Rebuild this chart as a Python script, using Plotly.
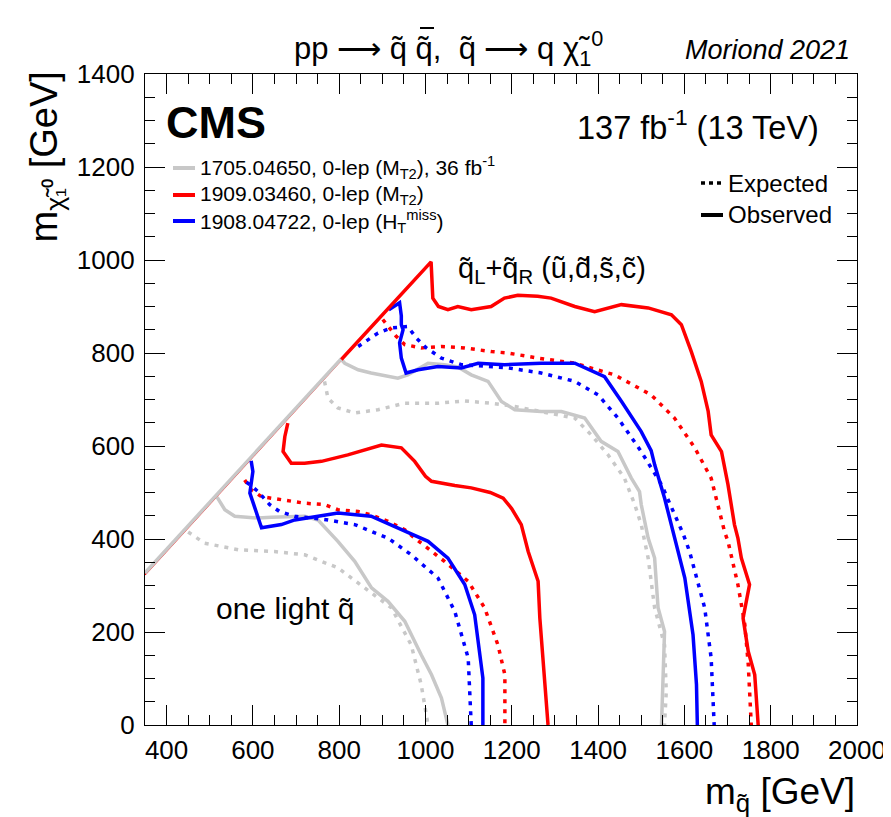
import plotly.graph_objects as go

# ---------------- data (GeV) ----------------
# kinematic diagonal
diag_red_x = [350, 1013]
diag_red_y = [323, 996]
diag_gray_x = [350, 805]
diag_gray_y = [327, 788]

# q_L + q_R (8 degenerate squarks)
red_obs_all_x = [805, 1013, 1017, 1030, 1052, 1075, 1106, 1152, 1183, 1214, 1260, 1291, 1346, 1392, 1454, 1516,
                 1570, 1593, 1616, 1639, 1655, 1662, 1686, 1701, 1716, 1724, 1732, 1751, 1736, 1748, 1763, 1771]
red_obs_all_y = [786, 996, 918, 900, 893, 900, 893, 900, 918, 924, 922, 918, 900, 889, 904, 897,
                 882, 861, 803, 739, 675, 624, 588, 517, 431, 402, 359, 302, 230, 158, 108, 0]
red_exp_all_x = [901, 917, 932, 952, 990, 1037, 1091, 1153, 1191, 1261, 1346, 1438, 1523, 1577, 1624, 1662,
                 1670, 1693, 1701, 1724, 1740, 1748, 1755]
red_exp_all_y = [872, 854, 836, 818, 811, 814, 811, 803, 800, 789, 778, 753, 710, 660, 596, 531,
                 502, 416, 395, 302, 216, 130, 0]
blue_obs_all_x = [915, 940, 944, 944, 948, 940, 944, 955, 983, 1029, 1083, 1122, 1183, 1268, 1346, 1415, 1454,
                  1500, 1523, 1531, 1554, 1570, 1577, 1601, 1620, 1628, 1630]
blue_obs_all_y = [893, 908, 880, 861, 850, 822, 789, 757, 764, 771, 768, 778, 775, 778, 778, 749, 696,
                  631, 590, 560, 488, 431, 402, 316, 194, 87, 0]
blue_exp_all_x = [844, 890, 921, 959, 979, 1002, 1037, 1083, 1145, 1191, 1268, 1346, 1400, 1446, 1500, 1547,
                  1554, 1578, 1598, 1612, 1647, 1662, 1669]
blue_exp_all_y = [814, 843, 854, 857, 832, 811, 789, 775, 771, 768, 757, 739, 710, 660, 588, 517,
                  502, 450, 409, 373, 252, 144, 0]
gray_obs_all_x = [805, 813, 844, 874, 936, 959, 1006, 1044, 1075, 1106, 1145, 1176, 1207, 1268, 1315, 1369,
                  1407, 1446, 1477, 1496, 1500, 1516, 1531, 1539, 1554, 1550, 1547]
gray_obs_all_y = [786, 778, 764, 757, 746, 753, 778, 775, 770, 753, 739, 696, 678, 674, 674, 660,
                  610, 588, 531, 502, 474, 402, 359, 252, 201, 108, 0]
gray_exp_all_x = [766, 774, 797, 836, 890, 952, 1029, 1091, 1153, 1207, 1268, 1346, 1384, 1423, 1461, 1485,
                  1500, 1516, 1531, 1554, 1558, 1554]
gray_exp_all_y = [739, 703, 682, 671, 678, 692, 692, 697, 692, 685, 674, 660, 624, 581, 531, 474,
                  431, 359, 252, 172, 72, 0]

# one light squark
red_obs_one_x = [681, 674, 670, 689, 720, 759, 820, 898, 944, 975, 1000, 1014, 1068, 1106, 1150, 1180, 1200,
                 1222, 1238, 1261, 1265, 1276, 1284]
red_obs_one_y = [649, 620, 588, 563, 563, 567, 581, 602, 596, 567, 535, 524, 515, 510, 500, 488, 465,
                 431, 373, 309, 230, 108, 0]
red_exp_one_x = [581, 596, 620, 658, 720, 766, 797, 844, 874, 913, 952, 975, 1044, 1099, 1137, 1168, 1184, 1184]
red_exp_one_y = [527, 506, 491, 485, 477, 474, 463, 459, 452, 438, 420, 402, 352, 309, 252, 172, 108, 0]
blue_obs_one_x = [596, 600, 593, 620, 666, 697, 751, 797, 874, 952, 1006, 1052, 1091, 1114, 1133, 1133]
blue_obs_one_y = [568, 545, 499, 424, 431, 441, 449, 456, 449, 416, 395, 359, 302, 237, 101, 0]
blue_exp_one_x = [585, 596, 612, 639, 662, 697, 766, 836, 913, 967, 1029, 1068, 1099, 1106]
blue_exp_one_y = [522, 515, 502, 474, 459, 449, 442, 431, 402, 366, 316, 244, 144, 0]
gray_obs_one_x = [517, 535, 558, 612, 643, 720, 751, 797, 836, 875, 913, 952, 990, 1014, 1037, 1052]
gray_obs_one_y = [490, 463, 449, 445, 447, 449, 441, 395, 352, 295, 266, 223, 151, 108, 58, 0]
gray_exp_one_x = [450, 488, 566, 650, 720, 797, 859, 921, 967, 990, 1006]
gray_exp_one_y = [415, 391, 377, 373, 366, 338, 295, 252, 172, 87, 0]

legend_labels = [
    "1705.04650, 0-lep (M<sub>T2</sub>), 36 fb<sup>-1</sup>",
    "1909.03460, 0-lep (M<sub>T2</sub>)",
    "1908.04722, 0-lep (H<sub>T</sub><sup>miss</sup>)",
]
x_ticks = [400, 600, 800, 1000, 1200, 1400, 1600, 1800, 2000]
y_ticks = [0, 200, 400, 600, 800, 1000, 1200, 1400]

# ---------------- styles ----------------
RED = "#ff0000"
BLUE = "#0000ff"
GRAY = "#c8c8c8"
LW = 3.5
DOT = "4px,6px"
FONT = "Liberation Sans, Arial, Helvetica, sans-serif"

fig = go.Figure()


def add(x, y, color, dash="solid", width=LW):
    fig.add_trace(go.Scatter(x=x, y=y, mode="lines", showlegend=False, hoverinfo="skip",
                             line=dict(color=color, width=width, dash=dash)))


add(diag_red_x, diag_red_y, RED, width=1.5)
add(diag_gray_x, diag_gray_y, GRAY, width=3.5)

# lower (one light squark)
add(gray_exp_one_x, gray_exp_one_y, GRAY, DOT)
add(gray_obs_one_x, gray_obs_one_y, GRAY)
add(red_exp_one_x, red_exp_one_y, RED, DOT)
add(blue_exp_one_x, blue_exp_one_y, BLUE, DOT)
add(blue_obs_one_x, blue_obs_one_y, BLUE)
add(red_obs_one_x, red_obs_one_y, RED)

# upper (8 squarks)
add(gray_exp_all_x, gray_exp_all_y, GRAY, DOT)
add(gray_obs_all_x, gray_obs_all_y, GRAY)
add(red_exp_all_x, red_exp_all_y, RED, DOT)
add(blue_exp_all_x, blue_exp_all_y, BLUE, DOT)
add(blue_obs_all_x, blue_obs_all_y, BLUE)
add(red_obs_all_x, red_obs_all_y, RED)

# ---------------- layout ----------------
L, R, T, B = 137, 849, 66, 717
W, H = 891, 817


def px(x):
    return (x - L) / (R - L)


def py(y):
    return (B - y) / (B - T)


axis_common = dict(
    showline=True, linecolor="black", linewidth=1.2, mirror="allticks",
    ticks="inside", ticklen=20, tickwidth=1, tickcolor="black",
    showgrid=False, zeroline=False,
    tickfont=dict(family=FONT, size=26, color="black"),
    minor=dict(ticks="inside", ticklen=10, tickwidth=1, tickcolor="black", dtick=50, showgrid=False),
)

fig.update_layout(
    width=W, height=H,
    margin=dict(l=L, r=W - R, t=T, b=H - B),
    paper_bgcolor="white", plot_bgcolor="white",
    font=dict(family=FONT, color="black"),
    xaxis=dict(range=[350, 2000], tickvals=x_ticks, ticktext=[str(v) for v in x_ticks],
               minor_tick0=350, ticklabelstandoff=2, **axis_common),
    yaxis=dict(range=[0, 1400], tickvals=y_ticks, ticktext=[str(v) for v in y_ticks],
               minor_tick0=0, ticklabelstandoff=4, **axis_common),
)

ann = []


def text(x, y, s, size, xanchor="left", yanchor="middle", angle=0, **font_kw):
    ann.append(dict(x=px(x), y=py(y), xref="paper", yref="paper", text=s, showarrow=False,
                    xanchor=xanchor, yanchor=yanchor, textangle=angle,
                    font=dict(family=FONT, size=size, color="black", **font_kw)))


text(440, 40, "pp ⟶ q̃ q̃,  q̃ ⟶ q χ̃<sub>1</sub><sup>0</sup>", 31, xanchor="center")
text(844, 42, "<i>Moriond 2021</i>", 27, xanchor="right")
text(156, 114, "<b>CMS</b>", 45)
text(813, 117, "137 fb<sup>-1</sup> (13 TeV)", 32.5, xanchor="right")
text(448, 262, "q̃<sub>L</sub>+q̃<sub>R</sub> (ũ,d̃,s̃,c̃)", 29)
text(206, 600, "one light q̃", 30)
text(849, 786, "m<sub>q̃</sub> [GeV]", 37, xanchor="right")
text(38, 62, "m<sub>χ̃₁⁰</sub> [GeV]", 38, xanchor="center", yanchor="top", angle=-90)

leg_colors = [GRAY, RED, BLUE]
leg_y = [160, 187, 213]
shapes = []
for c, yy, lab in zip(leg_colors, leg_y, legend_labels):
    shapes.append(dict(type="line", xref="paper", yref="paper", x0=px(165), x1=px(187), y0=py(yy), y1=py(yy),
                       line=dict(color=c, width=4)))
    text(190, yy, lab, 21)

# anti-squark bar over the second squark symbol in the title
shapes.append(dict(type="line", xref="paper", yref="paper", x0=px(412), x1=px(426), y0=py(20), y1=py(20),
                   line=dict(color="black", width=2)))

shapes.append(dict(type="line", xref="paper", yref="paper", x0=px(693), x1=px(715), y0=py(175), y1=py(175),
                   line=dict(color="black", width=3.5, dash="4px,4px")))
shapes.append(dict(type="line", xref="paper", yref="paper", x0=px(693), x1=px(715), y0=py(207), y1=py(207),
                   line=dict(color="black", width=4)))
text(718, 175, "Expected", 24)
text(718, 207, "Observed", 24)

fig.update_layout(annotations=ann, shapes=shapes)
fig.write_html("out.html")
